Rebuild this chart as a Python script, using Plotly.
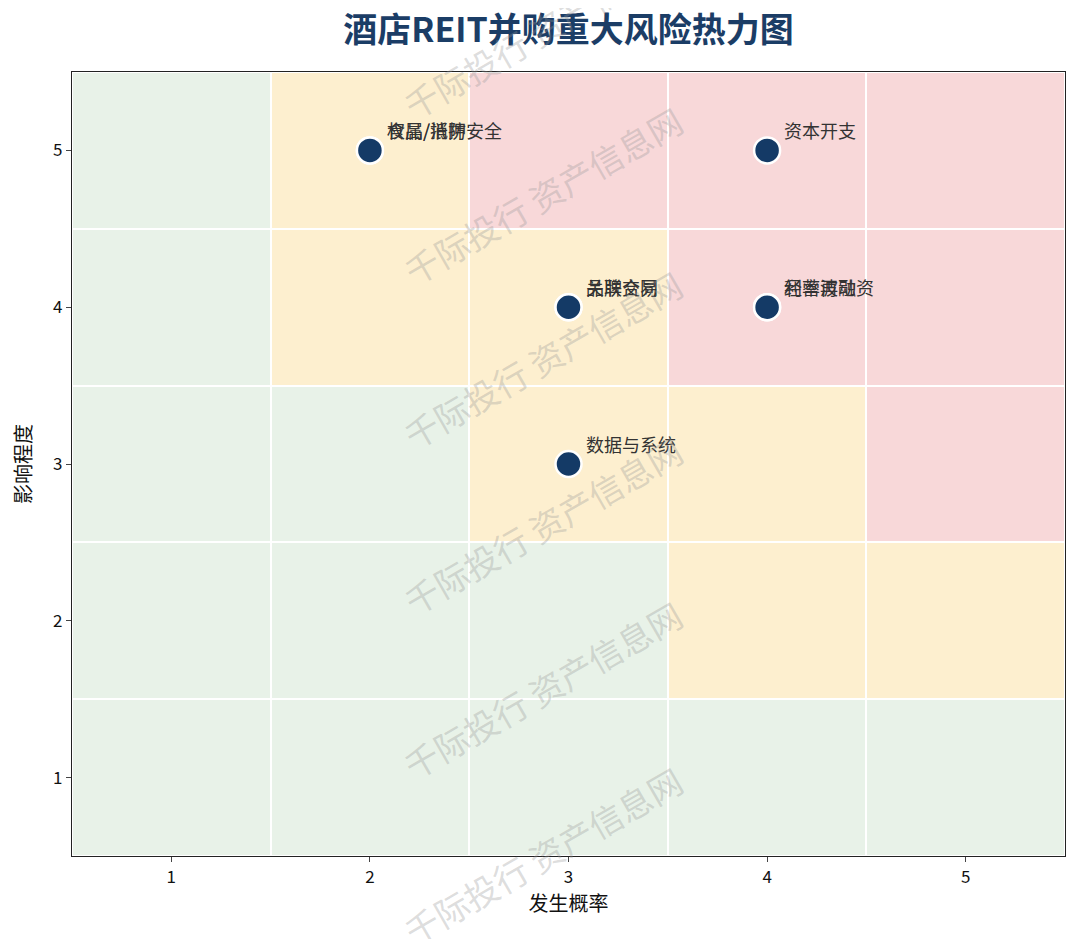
import plotly.graph_objects as go

# ---- data ----
prob_levels = [1, 2, 3, 4, 5]
impact_levels = [1, 2, 3, 4, 5]
# zone per cell: 0 = low (green), 1 = medium (yellow), 2 = high (red); rows = impact 1..5
zone_rows = [
    [0, 0, 0, 0, 0],
    [0, 0, 0, 1, 1],
    [0, 0, 1, 1, 2],
    [0, 1, 1, 2, 2],
    [0, 1, 2, 2, 2],
]
risk_names = ["权属/抵押", "食品/消防安全", "资本开支", "品牌合同", "关联交易",
              "利率再融资", "经营波动", "数据与系统"]
risk_prob = [2, 2, 4, 3, 3, 4, 4, 3]
risk_impact = [5, 5, 5, 4, 4, 4, 4, 3]

FONT = "Noto Sans CJK SC"

fig = go.Figure()
fig.add_trace(go.Heatmap(
    x=prob_levels, y=impact_levels, z=zone_rows,
    zmin=0, zmax=2,
    colorscale=[[0, "#e8f2e8"], [0.3333, "#e8f2e8"], [0.3334, "#fdefcf"],
                [0.6666, "#fdefcf"], [0.6667, "#f8d8d9"], [1, "#f8d8d9"]],
    showscale=False, xgap=2, ygap=2, hoverinfo="skip",
))
fig.add_trace(go.Scatter(
    x=risk_prob, y=risk_impact, mode="markers",
    marker=dict(size=26, color="#143a66", line=dict(color="white", width=2.5)),
    hoverinfo="skip", showlegend=False,
))
for name, px, py in zip(risk_names, risk_prob, risk_impact):
    fig.add_annotation(x=px, y=py, text=name, showarrow=False,
                       xanchor="left", yanchor="middle", xshift=15, yshift=20,
                       font=dict(family=FONT, size=18, color="#333333"))

# watermark
wm_y = [1.054, 0.843, 0.633, 0.422, 0.212, 0.001]
for yy in wm_y:
    fig.add_annotation(xref="paper", yref="paper", x=0.474, y=yy,
                       xanchor="center", yanchor="middle",
                       text="千际投行 资产信息网", showarrow=False, textangle=-30,
                       font=dict(family=FONT, size=34, color="rgba(150,150,150,0.33)"))

fig.update_layout(
    width=1072, height=931,
    margin=dict(l=64, r=15, t=64, b=83),
    paper_bgcolor="white", plot_bgcolor="white",
    title=dict(text="<b>酒店REIT并购重大风险热力图</b>", xref="paper", x=0.5,
               xanchor="center", yref="container", y=0.976, yanchor="middle",
               font=dict(family=FONT, size=34, color="#1b3d66")),
    font=dict(family=FONT, size=16, color="#111111"),
    showlegend=False,
)
fig.update_xaxes(range=[0.5, 5.5], tickvals=prob_levels, ticks="outside", ticklen=5,
                 showgrid=False, zeroline=False, showline=True, linecolor="#222",
                 linewidth=1.2, mirror=True,
                 title=dict(text="发生概率", font=dict(family=FONT, size=20), standoff=10),
                 tickfont=dict(family=FONT, size=17, color="#111"))
fig.update_yaxes(range=[0.5, 5.5], tickvals=impact_levels, ticks="outside", ticklen=5,
                 showgrid=False, zeroline=False, showline=True, linecolor="#222",
                 linewidth=1.2, mirror=True,
                 title=dict(text="影响程度", font=dict(family=FONT, size=20), standoff=16),
                 tickfont=dict(family=FONT, size=17, color="#111"))

fig.write_html("out.html")
